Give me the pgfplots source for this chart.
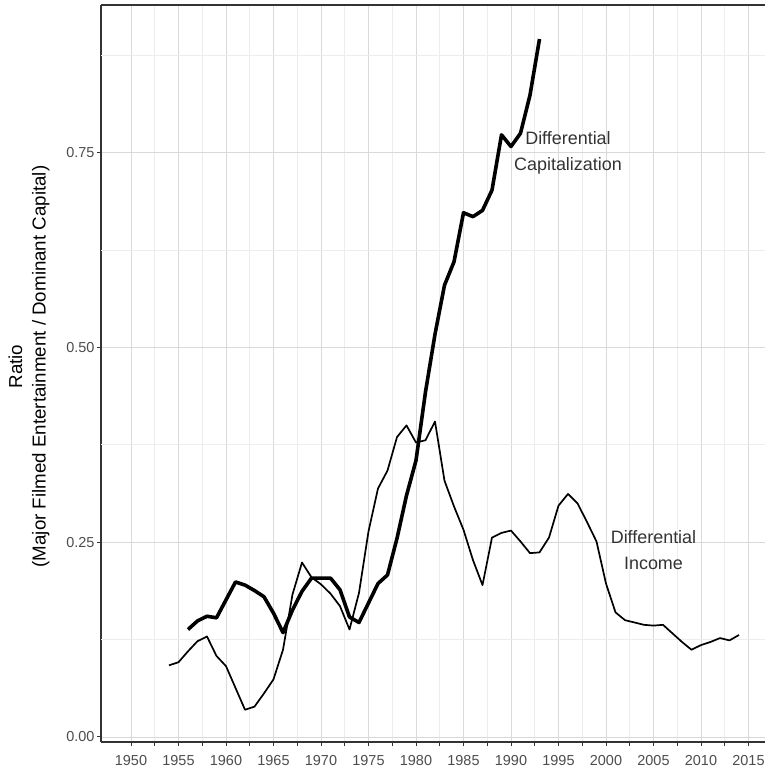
\documentclass[border=0pt]{standalone}
\usepackage{fontspec}
\setmainfont{Liberation Sans}
\usepackage{pgfplots}
\pgfplotsset{compat=1.18}
\definecolor{tickgray}{HTML}{4D4D4D}
\definecolor{axisgray}{HTML}{333333}
\definecolor{majgrid}{HTML}{D9D9D9}
\definecolor{mingrid}{HTML}{EDEDED}

% ratio of major filmed entertainment to dominant capital
\pgfplotstableread{
year ratio
1954 0.092
1955 0.096
1956 0.110
1957 0.123
1958 0.129
1959 0.104
1960 0.091
1961 0.063
1962 0.035
1963 0.039
1964 0.056
1965 0.074
1966 0.112
1967 0.183
1968 0.224
1969 0.205
1970 0.196
1971 0.184
1972 0.168
1973 0.138
1974 0.185
1975 0.264
1976 0.319
1977 0.342
1978 0.385
1979 0.400
1980 0.378
1981 0.381
1982 0.405
1983 0.329
1984 0.296
1985 0.266
1986 0.227
1987 0.195
1988 0.256
1989 0.262
1990 0.265
1991 0.251
1992 0.236
1993 0.237
1994 0.256
1995 0.297
1996 0.312
1997 0.300
1998 0.276
1999 0.251
2000 0.197
2001 0.160
2002 0.150
2003 0.147
2004 0.144
2005 0.143
2006 0.144
2007 0.133
2008 0.122
2009 0.112
2010 0.118
2011 0.122
2012 0.127
2013 0.124
2014 0.131
}\income

\pgfplotstableread{
year ratio
1956 0.138
1957 0.149
1958 0.155
1959 0.153
1960 0.176
1961 0.199
1962 0.195
1963 0.188
1964 0.180
1965 0.159
1966 0.134
1967 0.163
1968 0.187
1969 0.204
1970 0.204
1971 0.204
1972 0.189
1973 0.154
1974 0.147
1975 0.172
1976 0.197
1977 0.208
1978 0.255
1979 0.310
1980 0.355
1981 0.443
1982 0.517
1983 0.580
1984 0.610
1985 0.673
1986 0.668
1987 0.676
1988 0.702
1989 0.773
1990 0.758
1991 0.775
1992 0.824
1993 0.896
}\capital

\begin{document}
\begin{tikzpicture}
\begin{axis}[
    name=ax,
    scale only axis,
    width=664bp, height=737bp,
    xmin=1946.842, xmax=2016.737,
    ymin=-0.00642, ymax=0.9397,
    axis x line=box, axis y line=left,
    axis line style={-, draw=axisgray, line width=1.1bp},
    xtick={1950,1955,...,2015},
    xticklabels={1950,1955,1960,1965,1970,1975,1980,1985,1990,1995,2000,2005,2010,2015},
    minor x tick num=1,
    ytick={0,0.25,0.5,0.75},
    yticklabels={0.00,0.25,0.50,0.75},
    extra y ticks={0.125,0.375,0.625,0.875},
    extra y tick labels={},
    extra y tick style={major tick length=0pt, major grid style={draw=mingrid, line width=0.9bp}},
    xtick pos=bottom, ytick pos=left,
    tick align=outside,
    major tick length=4bp, minor tick length=4bp,
    tick style={draw=axisgray, line width=1bp},
    xmajorgrids, xminorgrids, ymajorgrids,
    major grid style={draw=majgrid, line width=0.9bp},
    minor grid style={draw=mingrid, line width=0.9bp},
    ticklabel style={font=\fontsize{14.5}{16}\selectfont, text=tickgray},
    xticklabel style={yshift=-6bp},
    yticklabel style={xshift=1bp},
    ylabel={Ratio\\(Major Filmed Entertainment / Dominant Capital)},
    ylabel style={align=center, font=\fontsize{18.8}{23.5}\selectfont, text=black,
        at={(rel axis cs:0,0.5)}, anchor=south, yshift=48bp, xshift=7bp},
    clip=false,
]
\addplot[black, line width=1.7bp, line join=round] table[x=year, y=ratio] {\income};
\addplot[black, line width=3.6bp, line join=round] table[x=year, y=ratio] {\capital};
\node[align=center, font=\fontsize{18}{26}\selectfont, text=axisgray]
    at (axis cs:1996,0.75) {Differential\\Capitalization};
\node[align=center, font=\fontsize{18}{26}\selectfont, text=axisgray]
    at (axis cs:2005,0.24) {Differential\\Income};
\end{axis}
\pgfresetboundingbox
\path ([xshift=-101bp,yshift=-29bp]ax.south west) rectangle ([yshift=5bp]ax.north east);
\end{tikzpicture}
\end{document}
